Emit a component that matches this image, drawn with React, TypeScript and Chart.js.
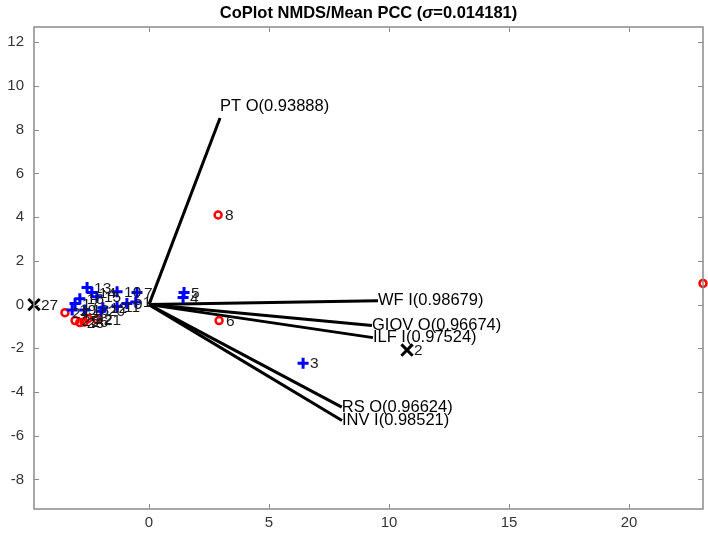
import React, { useEffect, useRef } from "react";
import { Chart, registerables } from "chart.js";

Chart.register(...registerables);

// ---- data ----
const pointIds = ["1","2","3","4","5","6","7","8","9","10","11","12","13","14","15","16","17","18","19","20","21","22","23","24","25","26","27","28"];
const pointX = [-0.55, 10.75, 6.42, 1.42, 1.46, 2.92, -0.5, 2.88, -0.92, -1.33, -1.33, -1.92, -2.58, -2.38, -2.17, -2.88, -3.08, -2.67, -3.2, -2.0, -2.17, -2.54, -2.88, -3.5, -3.08, -2.7, -4.79, 23.08];
const pointY = [0.12, -2.08, -2.68, 0.32, 0.55, -0.73, 0.55, 4.1, 0.05, 0.59, -0.09, -0.14, 0.78, 0.55, 0.36, 0.27, 0.05, -0.25, -0.25, -0.3, -0.68, -0.64, -0.82, -0.37, -0.73, -0.8, 0.0, 0.97];
// marker group: P = blue plus, O = red circle, X = black cross
const pointGroup = ["P","X","P","P","P","O","P","O","P","P","P","P","P","P","P","P","P","P","P","P","O","O","O","O","O","O","X","O"];

const vectorNames = ["PT O(0.93888)", "WF I(0.98679)", "GIOV O(0.96674)", "ILF I(0.97524)", "RS O(0.96624)", "INV I(0.98521)"];
const vectorX = [2.96, 9.54, 9.29, 9.33, 8.03, 8.04];
const vectorY = [8.54, 0.18, -0.96, -1.51, -4.69, -5.3];

const xTicks = [0, 5, 10, 15, 20];
const yTicks = [-8, -6, -4, -2, 0, 2, 4, 6, 8, 10, 12];
const xRange = [-4.79, 23.08];
const yRange = [-9.35, 12.7];

const titleParts = ["CoPlot NMDS/Mean PCC (", "\u03C3", "=0.014181)"];

const FONT = "'Liberation Sans', Arial, Helvetica, sans-serif";

function groupData(g: string) {
  const out: { x: number; y: number; id: string }[] = [];
  pointGroup.forEach((t, i) => {
    if (t === g) out.push({ x: pointX[i], y: pointY[i], id: pointIds[i] });
  });
  return out;
}

const overlay = {
  id: "overlay",
  afterDatasetsDraw(chart: any) {
    const { ctx, chartArea: a, scales } = chart;
    const xs = scales.x, ys = scales.y;
    ctx.save();
    // vector labels
    ctx.font = "16.5px " + FONT;
    ctx.fillStyle = "#000";
    ctx.textAlign = "left";
    vectorNames.forEach((n, i) => {
      const px = xs.getPixelForValue(vectorX[i]);
      const py = ys.getPixelForValue(vectorY[i]);
      const up = Math.abs(vectorY[i]) > Math.abs(vectorX[i]);
      ctx.textBaseline = up ? "bottom" : "middle";
      ctx.fillText(n, px, up ? py - 3 : py);
    });
    // point labels
    ctx.beginPath();
    ctx.rect(a.left, a.top, a.right - a.left, a.bottom - a.top);
    ctx.clip();
    ctx.font = "15.5px " + FONT;
    ctx.fillStyle = "#1a1a1a";
    ctx.textBaseline = "middle";
    pointIds.forEach((id, i) => {
      const px = xs.getPixelForValue(pointX[i]);
      const py = ys.getPixelForValue(pointY[i]);
      ctx.fillText(id, px + 7, py + 1);
    });
    ctx.restore();
  },
  afterDraw(chart: any) {
    const { ctx, chartArea: a, scales } = chart;
    const xs = scales.x, ys = scales.y;
    ctx.save();
    // frame
    ctx.strokeStyle = "#8a8a8a";
    ctx.lineWidth = 1.5;
    ctx.strokeRect(a.left, a.top, a.right - a.left, a.bottom - a.top);
    ctx.beginPath();
    const tl = 5;
    xTicks.forEach((v) => {
      const px = Math.round(xs.getPixelForValue(v)) + 0.5;
      ctx.moveTo(px, a.bottom); ctx.lineTo(px, a.bottom - tl);
      ctx.moveTo(px, a.top); ctx.lineTo(px, a.top + tl);
    });
    yTicks.forEach((v) => {
      const py = Math.round(ys.getPixelForValue(v)) + 0.5;
      ctx.moveTo(a.left, py); ctx.lineTo(a.left + tl, py);
      ctx.moveTo(a.right, py); ctx.lineTo(a.right - tl, py);
    });
    ctx.lineWidth = 1;
    ctx.stroke();
    // title
    const fonts = ["bold 16.5px " + FONT, "italic bold 16.5px " + FONT, "bold 16.5px " + FONT];
    let total = 0;
    const widths = titleParts.map((t, i) => {
      ctx.font = fonts[i];
      const w = ctx.measureText(t).width;
      total += w;
      return w;
    });
    let x = (a.left + a.right) / 2 - total / 2;
    ctx.fillStyle = "#000";
    ctx.textAlign = "left";
    ctx.textBaseline = "middle";
    titleParts.forEach((t, i) => {
      ctx.font = fonts[i];
      ctx.fillText(t, x, 13);
      x += widths[i];
    });
    ctx.restore();
  },
};

export default function App() {
  const ref = useRef<HTMLCanvasElement>(null);
  useEffect(() => {
    document.body.style.margin = "0";
    const canvas = ref.current!;
    const datasets: any[] = [
      {
        label: "plus",
        data: groupData("P"),
        pointStyle: "cross",
        radius: 5.5,
        borderColor: "#0000ff",
        backgroundColor: "#0000ff",
        borderWidth: 3,
        showLine: false,
        clip: false,
        order: 0,
      },
      {
        label: "circle",
        data: groupData("O"),
        pointStyle: "circle",
        radius: 3.5,
        borderColor: "#ff0000",
        backgroundColor: "rgba(0,0,0,0)",
        borderWidth: 2.5,
        showLine: false,
        clip: false,
        order: 0,
      },
      {
        label: "x",
        data: groupData("X"),
        pointStyle: "crossRot",
        radius: 8,
        borderColor: "#000",
        backgroundColor: "#000",
        borderWidth: 3,
        showLine: false,
        clip: false,
        order: 0,
      },
    ];
    vectorNames.forEach((n, i) => {
      datasets.push({
        label: n,
        data: [
          { x: 0, y: 0 },
          { x: vectorX[i], y: vectorY[i] },
        ],
        showLine: true,
        borderColor: "#000",
        borderWidth: 3,
        pointRadius: 0,
        order: 1,
      });
    });
    const tickFont = { family: FONT, size: 15 };
    const chart = new Chart(canvas, {
      type: "scatter",
      data: { datasets },
      options: {
        animation: false,
        responsive: false,
        devicePixelRatio: 1,
        layout: { autoPadding: false, padding: { top: 27, right: 5, left: 0, bottom: 0 } },
        plugins: { legend: { display: false }, title: { display: false }, tooltip: { enabled: false } },
        events: [],
        scales: {
          x: {
            type: "linear",
            min: xRange[0],
            max: xRange[1],
            grid: { display: false, drawTicks: false },
            border: { display: false },
            afterBuildTicks: (s: any) => { s.ticks = xTicks.map((v) => ({ value: v })); },
            afterFit: (s: any) => { s.height = 24; },
            ticks: { color: "#333", font: tickFont, padding: 5, maxRotation: 0 },
          },
          y: {
            type: "linear",
            min: yRange[0],
            max: yRange[1],
            grid: { display: false, drawTicks: false },
            border: { display: false },
            afterBuildTicks: (s: any) => { s.ticks = yTicks.map((v) => ({ value: v })); },
            afterFit: (s: any) => { s.width = 34; },
            ticks: { color: "#333", font: tickFont, padding: 10 },
          },
        },
      } as any,
      plugins: [overlay],
    });
    return () => chart.destroy();
  }, []);
  return (
    <div style={{ position: "absolute", left: 0, top: 0, width: 708, height: 533 }}>
      <canvas ref={ref} width={708} height={533} style={{ display: "block" }} />
    </div>
  );
}
